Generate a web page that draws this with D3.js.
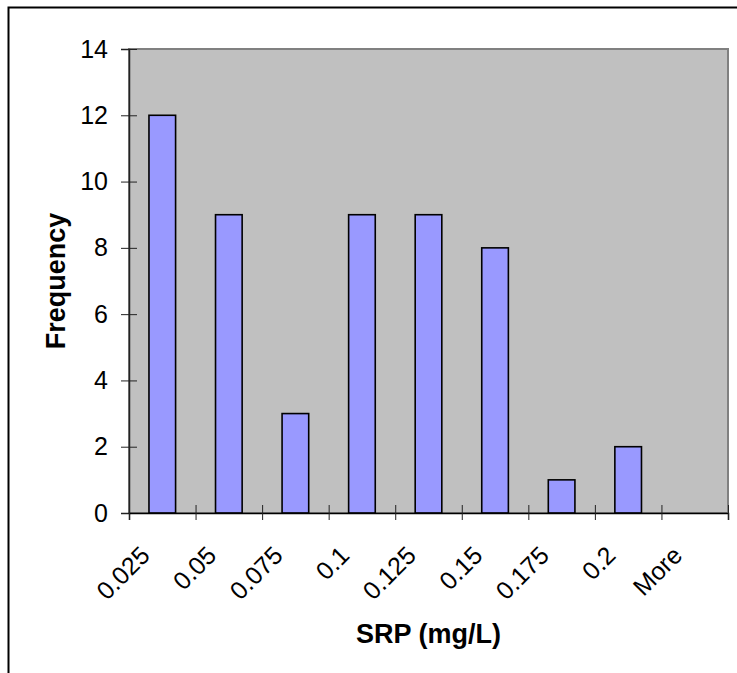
<!DOCTYPE html>
<html>
<head>
<meta charset="utf-8">
<script src="https://cdn.jsdelivr.net/npm/d3@7"></script>
<style>
  html, body { margin: 0; padding: 0; background: #fff; }
  svg { display: block; font-family: "Liberation Sans", Arial, sans-serif; }
</style>
</head>
<body>
<svg id="chart" width="737" height="673"></svg>
<script>
// Histogram bins of SRP concentration and their counts
const bins = ["0.025", "0.05", "0.075", "0.1", "0.125", "0.15", "0.175", "0.2", "More"];
const frequency = [12, 9, 3, 9, 9, 8, 1, 2, 0];
const yTicks = [0, 2, 4, 6, 8, 10, 12, 14];

const svg = d3.select("#chart");
const plot = { left: 129, right: 728, top: 49, bottom: 513 };

// Chart-area frame
svg.append("rect")
  .attr("x", 8.5).attr("y", 7.5)
  .attr("width", 740).attr("height", 700)
  .attr("fill", "#fff").attr("stroke", "#000").attr("stroke-width", 2);

const x = d3.scaleBand().domain(bins).range([plot.left, plot.right]).padding(0);
const edges = d3.scaleLinear().domain([0, bins.length]).range([plot.left, plot.right]);
const y = d3.scaleLinear().domain([0, 14]).range([plot.bottom, plot.top]);

// Plot area
svg.append("rect")
  .attr("x", plot.left).attr("y", plot.top)
  .attr("width", plot.right - plot.left).attr("height", plot.bottom - plot.top)
  .attr("fill", "#c0c0c0").attr("stroke", "#808080").attr("stroke-width", 2);

// Bars
const barW = x.bandwidth() * 0.4;
svg.append("g").selectAll("rect")
  .data(bins.map((b, i) => ({ b, v: frequency[i] })).filter(d => d.v > 0))
  .join("rect")
  .attr("x", d => x(d.b) + (x.bandwidth() - barW) / 2)
  .attr("y", d => y(d.v))
  .attr("width", barW)
  .attr("height", d => y(0) - y(d.v))
  .attr("fill", "#9999ff").attr("stroke", "#000").attr("stroke-width", 1.6);

// Y axis with ticks crossing the axis line
const yAxis = svg.append("g")
  .attr("transform", `translate(${plot.left},0)`)
  .call(d3.axisLeft(y).tickValues(yTicks).tickSize(8).tickPadding(13));
yAxis.select(".domain").attr("stroke", "#222").attr("stroke-width", 1.5);
yAxis.selectAll(".tick line").attr("x1", -8).attr("x2", 8).attr("stroke", "#222");
yAxis.selectAll(".tick text")
  .attr("font-size", 25).attr("font-family", "Liberation Sans, Arial, sans-serif").attr("fill", "#000");

// X axis: tick marks at bin edges
const xAxis = svg.append("g")
  .attr("transform", `translate(0,${plot.bottom})`)
  .call(d3.axisBottom(edges).tickValues(d3.range(bins.length + 1)).tickSize(7).tickFormat(""));
xAxis.select(".domain").attr("stroke", "#000").attr("stroke-width", 1.5);
xAxis.selectAll(".tick line").attr("y1", -8).attr("y2", 7).attr("stroke", "#222");

// Category labels, rotated
svg.append("g").selectAll("text")
  .data(bins)
  .join("text")
  .attr("transform", d => `translate(${x(d) + x.bandwidth() / 2 - 11},${plot.bottom + 44}) rotate(-45)`)
  .attr("text-anchor", "end")
  .attr("font-size", 25)
  .attr("fill", "#000")
  .text(d => d);

// Axis titles
svg.append("text")
  .attr("x", (plot.left + plot.right) / 2).attr("y", 643)
  .attr("text-anchor", "middle")
  .attr("font-size", 27).attr("font-weight", "bold")
  .text("SRP (mg/L)");

svg.append("text")
  .attr("transform", `translate(65,${(plot.top + plot.bottom) / 2}) rotate(-90)`)
  .attr("text-anchor", "middle")
  .attr("font-size", 27).attr("font-weight", "bold")
  .text("Frequency");
</script>
</body>
</html>
